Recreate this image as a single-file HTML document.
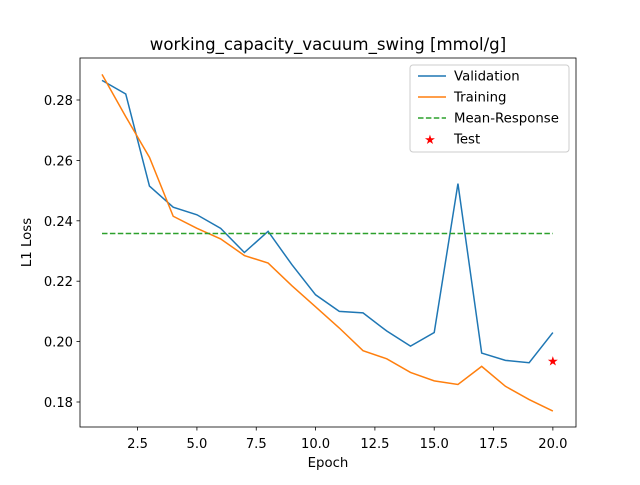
<!DOCTYPE html>
<html><head><meta charset="utf-8"><style>
body{margin:0;background:#fff;}
svg text{font-family:"DejaVu Sans","Liberation Sans",sans-serif;}
</style></head><body>
<svg id="chart" width="640" height="480" xmlns="http://www.w3.org/2000/svg">
<rect width="640" height="480" fill="#fff"/>
<text x="328" y="50" font-size="16.6" text-anchor="middle">working_capacity_vacuum_swing [mmol/g]</text>
<g id="ticks"></g>
<g id="series"></g>
<rect x="80" y="58" width="496" height="369" fill="none" stroke="#000" stroke-width="0.8"/>
<text x="328" y="467" font-size="13.3" text-anchor="middle">Epoch</text>
<text transform="translate(31,242.5) rotate(-90)" font-size="13.3" text-anchor="middle">L1 Loss</text>
<g>
<rect x="410" y="65" width="159" height="87" fill="#fff" stroke="#ccc" rx="3"/>
<g><line x1="418" y1="76" x2="446" y2="76" stroke="#1f77b4" stroke-width="1.5"/><text x="454" y="80.5" font-size="13.3">Validation</text></g>
<g><line x1="418" y1="97" x2="446" y2="97" stroke="#ff7f0e" stroke-width="1.5"/><text x="454" y="101.5" font-size="13.3">Training</text></g>
<g><line x1="418" y1="118" x2="446" y2="118" stroke="#2ca02c" stroke-width="1.5" stroke-dasharray="5.5,2.4"/><text x="454" y="122.5" font-size="13.3">Mean-Response</text></g>
<g><text x="430" y="144" font-size="13" fill="red" text-anchor="middle">★</text><text x="454" y="143.5" font-size="13.3">Test</text></g>
</g>
</svg>
<script>
const epochs=[1,2,3,4,5,6,7,8,9,10,11,12,13,14,15,16,17,18,19,20];
const validation=[0.2865,0.282,0.2515,0.2445,0.242,0.2375,0.2295,0.2365,0.2255,0.2155,0.21,0.2095,0.2035,0.1985,0.203,0.2523,0.1962,0.1938,0.193,0.203];
const training=[0.2885,0.2745,0.261,0.2415,0.2375,0.234,0.2285,0.226,0.2185,0.2115,0.2045,0.197,0.1943,0.1898,0.187,0.1858,0.1918,0.1852,0.1808,0.177];
const meanResponse=[0.2358];
const testEpoch=[20];
const testValue=[0.1935];
const xTicks=[2.5,5.0,7.5,10.0,12.5,15.0,17.5,20.0];
const yTicks=[0.18,0.20,0.22,0.24,0.26,0.28];
const NS="http://www.w3.org/2000/svg";
const sx=v=>102+(v-1)*23.73;
const sy=v=>402-(v-0.18)*3020;
function mk(tag,attrs,parent){const e=document.createElementNS(NS,tag);for(const k in attrs)e.setAttribute(k,attrs[k]);parent.appendChild(e);return e;}
const tg=document.getElementById('ticks');
xTicks.forEach(t=>{const x=sx(t);
const l=mk('line',{x1:x,x2:x,y1:427,y2:430.5,stroke:'#000','stroke-width':0.8},tg);


const tx=mk('text',{x:x,y:448,'font-size':13.1,'text-anchor':'middle'},tg);tx.textContent=t.toFixed(1);

});
yTicks.forEach(t=>{const y=sy(t);
const l=mk('line',{x1:76.5,x2:80,y1:y,y2:y,stroke:'#000','stroke-width':0.8},tg);


const tx=mk('text',{x:73,y:y+5,'font-size':13.1,'text-anchor':'end'},tg);tx.textContent=t.toFixed(2);

});
const sg=document.getElementById('series');
function line(vals,color,name){const p=mk('polyline',{points:vals.map((v,i)=>sx(epochs[i])+','+sy(v)).join(' '),fill:'none',stroke:color,'stroke-width':1.5},sg);

}
line(validation,'#1f77b4','validation-line');
line(training,'#ff7f0e','training-line');
const m=mk('line',{x1:sx(epochs[0]),x2:sx(epochs[epochs.length-1]),y1:sy(meanResponse[0]),y2:sy(meanResponse[0]),stroke:'#2ca02c','stroke-width':1.5,'stroke-dasharray':'5.5,2.4'},sg);


const s=mk('text',{x:sx(testEpoch[0]),y:sy(testValue[0])+4.5,'font-size':13,fill:'red','text-anchor':'middle'},sg);s.textContent='★';


</script>
</body></html>
